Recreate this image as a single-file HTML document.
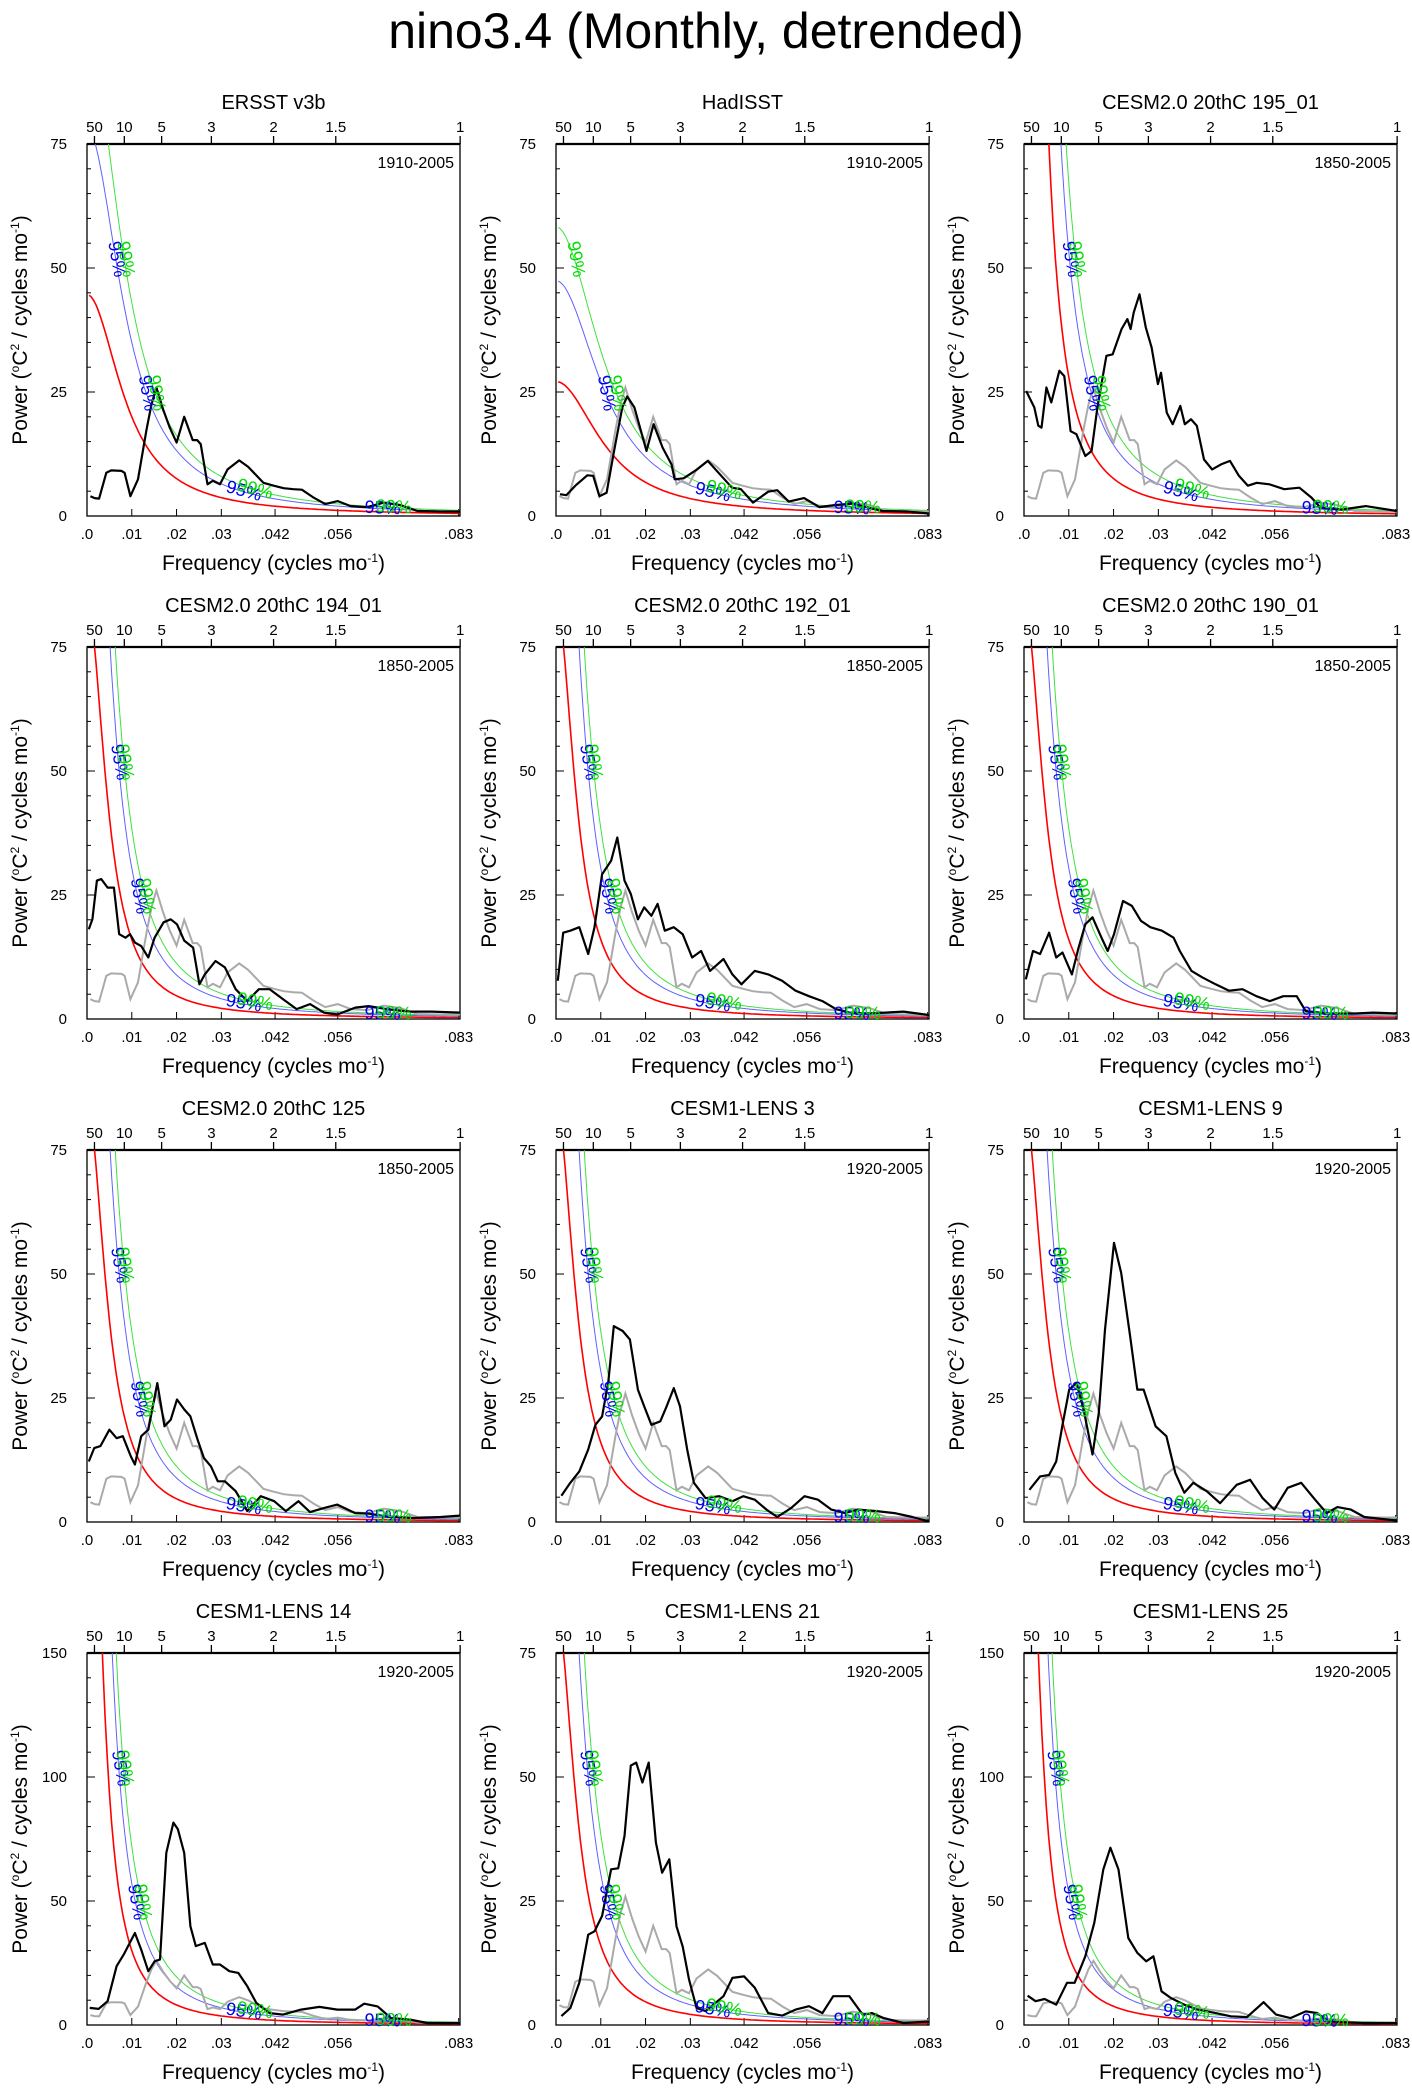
<!DOCTYPE html>
<html><head><meta charset="utf-8"><style>
html,body{margin:0;padding:0;background:#fff;}
svg{display:block;font-family:"Liberation Sans",sans-serif;}
</style></head><body>
<svg id="chart" width="1412" height="2091" viewBox="0 0 1412 2091" xmlns="http://www.w3.org/2000/svg">
<text x="706" y="48" font-size="50" text-anchor="middle">nino3.4 (Monthly, detrended)</text>
</svg>
<script>
// ---------- data ----------
const xTickVals = [0, .01, .02, .03, .042, .056, .083];
const xTickLabels = ['.0', '.01', '.02', '.03', '.042', '.056', '.083'];
const periodTicks = [50, 10, 5, 3, 2, 1.5, 1];
const panelTitles = ['ERSST v3b','HadISST','CESM2.0 20thC 195_01','CESM2.0 20thC 194_01','CESM2.0 20thC 192_01','CESM2.0 20thC 190_01','CESM2.0 20thC 125','CESM1-LENS 3','CESM1-LENS 9','CESM1-LENS 14','CESM1-LENS 21','CESM1-LENS 25'];
const panelYears = ['1910-2005','1910-2005','1850-2005','1850-2005','1850-2005','1850-2005','1850-2005','1920-2005','1920-2005','1920-2005','1920-2005','1920-2005'];
const panelYmax = [75,75,75,75,75,75,75,75,75,150,75,150];
const redAt01 = [20,15.5,28,16,16,16,16,16,16,30,16,28];
const redRho = [.945,.93,.98,.97,.97,.97,.97,.97,.97,.98,.97,.98];
const blueFac = [1.75,1.75,1.9,1.9,1.9,1.9,1.9,1.9,1.9,1.9,1.9,1.9];
const greenFac = [2.15,2.15,2.4,2.4,2.4,2.4,2.4,2.4,2.4,2.4,2.4,2.4];

const ersstF = [.00075,.0017,.0027,.0043,.0054,.0077,.0084,.0097,.0114,.0133,.0144,.0155,.017,.0185,.02,.0217,.0236,.0246,.0254,.0269,.0281,.0297,.0314,.034,.036,.0394,.0417,.0439,.0461,.048,.0506,.0532,.056,.0589,.0626,.0663,.07,.0738,.079,.0833];
const ersstP = [4.0,3.6,3.5,8.7,9.2,9.1,8.7,4.0,7.4,17.5,22.5,25.9,21.5,17.8,14.8,20,15.3,15.3,14.5,6.4,7.1,6.4,9.4,11.2,9.9,6.7,6.1,5.6,5.4,5.3,3.7,2.4,3.0,2.0,1.8,2.7,2.2,1.0,0.9,0.9];
const hadF = [.0009,.0023,.0043,.007,.0083,.0097,.0113,.0131,.0148,.0159,.0175,.0202,.0218,.0238,.0258,.0265,.0285,.0315,.0339,.0366,.0393,.0413,.044,.0474,.0494,.052,.0554,.0588,.0622,.0662,.0729,.0783,.0833];
const hadP = [4.4,4.2,6.1,8.2,8.1,4.0,4.7,13.8,21.9,24.1,21.9,13.1,18.5,13.8,10.4,7.4,7.6,9.4,11.1,8.4,5.7,5.4,2.7,4.9,5.2,2.9,3.6,1.8,2.2,2.5,1.0,0.9,0.5];
const c195F = [.0005,.0023,.0032,.0039,.005,.0061,.0079,.009,.0104,.0117,.0137,.0151,.0164,.0184,.0198,.0218,.0231,.0238,.0245,.0258,.0272,.0285,.0299,.0306,.0319,.0332,.0349,.0359,.0373,.0386,.0402,.042,.044,.046,.048,.05,.052,.0548,.0581,.0615,.0642,.0662,.0709,.0763,.0833];
const c195P = [25.2,21.9,18.2,17.8,25.9,22.9,29.3,28.2,17.1,16.5,12.1,13.1,21.9,32.3,32.6,37.7,39.7,37.7,41.0,44.7,38.0,34.0,26.6,28.9,20.8,18.5,22.2,18.5,19.5,18.2,11.4,9.4,10.4,11.1,8.1,6.1,6.7,6.4,5.4,5.7,3.7,1.7,1.3,2.0,1.0];
const c194F = [.0004,.0012,.0022,.0032,.0046,.006,.0072,.0086,.0096,.0107,.0121,.0137,.0151,.0171,.0187,.0201,.0217,.0237,.0251,.0263,.0287,.0308,.0332,.0358,.0384,.0408,.0438,.0468,.0498,.0529,.0559,.0599,.0629,.0669,.072,.077,.0833];
const c194P = [18.1,20.1,27.9,28.2,26.5,26.5,17.1,16.4,17.1,15.4,14.7,12.4,16.4,19.5,20.1,19.1,15.8,14.4,7.0,9.0,11.7,10.4,6.0,3.6,6.0,6.0,4.0,2.0,3.0,1.3,0.9,2.3,2.6,2.0,1.5,1.5,1.3];
const c192F = [.0004,.0016,.0032,.0052,.0072,.0086,.0103,.0123,.0137,.0153,.0167,.0183,.0197,.0213,.0227,.0243,.0263,.0283,.0304,.0324,.0344,.0374,.0394,.0414,.0444,.0474,.0505,.0535,.0565,.0595,.0625,.0655,.0695,.0736,.0776,.0833];
const c192P = [7.7,17.4,17.8,18.5,13.1,18.5,29.2,31.9,36.6,27.9,25.2,20.1,22.5,20.8,23.2,17.8,18.5,17.1,12.4,13.7,9.7,12.1,9.0,7.0,9.7,9.0,7.7,5.7,4.6,3.6,2.0,1.3,1.1,1.3,1.5,0.8];
const c190F = [.0004,.002,.0036,.0056,.0072,.0086,.0107,.0121,.0137,.0153,.0173,.0187,.0201,.0221,.0241,.0261,.0282,.0308,.0334,.0348,.0374,.0398,.0428,.0458,.0488,.0519,.0549,.0579,.0609,.0629,.0679,.074,.078,.0833];
const c190P = [8.0,13.7,13.1,17.4,12.4,13.4,9.0,14.1,19.1,20.5,16.4,13.7,17.1,23.8,22.8,19.8,18.5,17.8,16.4,13.7,9.7,8.4,7.0,5.7,6.0,4.6,3.6,4.6,4.6,1.6,1.1,1.1,1.3,1.1];
const c125F = [.0004,.0016,.003,.005,.0066,.008,.0098,.0107,.0121,.0137,.0157,.0173,.0187,.0201,.0217,.0231,.0247,.0261,.0277,.0292,.0308,.0332,.0358,.0388,.0418,.0444,.0472,.0498,.0529,.0559,.0599,.0629,.0669,.073,.079,.0833];
const c125P = [12.2,14.9,15.3,18.6,16.9,17.3,13.2,11.6,17.3,18.6,28.0,19.3,20.6,24.7,22.7,21.3,16.6,12.9,11.2,8.2,8.2,6.2,2.2,5.2,4.2,2.2,4.2,2.0,2.8,3.5,1.8,1.7,1.1,0.8,1.0,1.3];
const l3F = [.0012,.0032,.0052,.0072,.0088,.0103,.0117,.0129,.0149,.0165,.0183,.0197,.0213,.0233,.0247,.0263,.0277,.0293,.0308,.0334,.0364,.0394,.0418,.0444,.047,.0494,.0525,.0555,.0585,.0615,.0645,.0675,.0716,.0756,.0796,.0833];
const l3P = [5.3,7.9,10.2,14.6,19.6,21.3,28.4,39.5,38.5,36.8,26.7,23.3,19.6,20.3,23.3,27.0,23.3,14.6,7.9,4.8,5.2,4.2,5.2,4.5,2.5,1.0,2.8,5.2,4.5,2.5,1.8,2.5,2.2,1.8,1.0,0.1];
const l9F = [.0012,.0036,.0056,.0072,.0086,.0101,.0117,.0133,.0153,.0167,.0181,.0201,.0217,.0237,.0253,.0267,.0294,.0318,.0338,.0358,.0378,.0408,.0438,.0475,.0505,.0533,.0559,.0589,.0619,.065,.0676,.07,.073,.076,.08,.0833];
const l9P = [6.5,9.2,9.5,12.2,19.6,26.7,28.0,22.7,13.6,22.0,38.8,56.3,50.2,37.5,26.7,26.7,19.3,17.3,9.9,5.9,7.9,6.2,3.8,7.5,8.5,4.8,2.5,6.9,7.9,4.5,1.8,3.0,2.5,1.0,0.6,0.3];
const l14F = [.0006,.0026,.0046,.0066,.0082,.0107,.0121,.0137,.0151,.0163,.0177,.0193,.0203,.0217,.0231,.0243,.0263,.0281,.0297,.0318,.0338,.0358,.0378,.0408,.0438,.0478,.0519,.0559,.0599,.0619,.0649,.0679,.072,.076,.0833];
const l14P = [6.9,6.5,9.6,23.7,28.4,37.1,30.4,21.7,25.7,26.4,69.4,81.6,78.9,69.4,39.8,31.8,33.1,24.4,24.4,21.7,21.0,15.6,8.9,4.8,4.2,6.2,7.3,6.2,6.2,8.6,7.5,2.8,2.2,0.8,0.8];
const l21F = [.0012,.0032,.0052,.0072,.0086,.0103,.0123,.0139,.0153,.0167,.0179,.0193,.0207,.0223,.0237,.0253,.0269,.0283,.0297,.0314,.0334,.0374,.0394,.042,.0444,.0474,.0505,.0535,.0565,.0595,.0619,.0655,.0685,.0706,.0732,.0776,.0833];
const l21P = [1.8,3.4,8.5,18.2,18.9,22.0,31.4,31.6,38.1,52.3,52.9,48.9,52.9,36.8,30.7,33.4,19.9,15.8,9.2,3.4,2.8,5.8,9.5,9.8,7.5,2.4,1.9,3.1,3.8,2.4,5.8,5.8,2.1,2.4,1.4,0.4,0.7];
const l25F = [.0008,.0026,.0046,.0072,.0096,.0113,.0137,.0157,.0177,.0193,.0211,.0233,.0253,.0273,.0289,.0307,.0328,.0358,.0388,.0428,.0462,.0498,.0535,.0563,.0595,.0629,.0655,.068,.072,.076,.0833];
const l25P = [11.8,9.6,10.5,8.2,17.0,17.0,27.7,41.2,62.7,71.5,62.7,35.1,29.1,25.7,27.7,13.6,10.9,8.2,6.2,4.8,3.5,3.2,9.2,4.2,2.8,5.5,4.8,1.5,1.1,0.8,0.8];

const blackF = [ersstF,hadF,c195F,c194F,c192F,c190F,c125F,l3F,l9F,l14F,l21F,l25F];
const blackP = [ersstP,hadP,c195P,c194P,c192P,c190P,c125P,l3P,l9P,l14P,l21P,l25P];
const showGray = [false,true,true,true,true,true,true,true,true,true,true,true];

// ---------- drawing ----------
const NS = 'http://www.w3.org/2000/svg';
const svg = document.getElementById('chart');
const FMAX = 0.0833, PW = 373, PH = 372;
const colLeft = [87, 556, 1024], rowTop = [144, 647, 1150, 1653];

function mk(tag, attrs, parent) {
  const e = document.createElementNS(NS, tag);
  for (const k in attrs) e.setAttribute(k, attrs[k]);
  (parent || svg).appendChild(e);
  return e;
}
function redNoise(p, f) {
  const r = redRho[p];
  const D = ff => 1 - 2 * r * Math.cos(2 * Math.PI * ff) + r * r;
  return redAt01[p] * D(0.01) / D(f);
}

for (let p = 0; p < 12; p++) {
  const L = colLeft[p % 3], T = rowTop[Math.floor(p / 3)];
  const ymax = panelYmax[p];
  const xs = f => L + f / FMAX * PW;
  const ys = v => T + PH - v / ymax * PH;

  const g = mk('g', {});
  
  

  const clipId = 'clip' + p;
  const cp = mk('clipPath', {id: clipId}, g);
  mk('rect', {x: L, y: T, width: PW, height: PH}, cp);

  const t = mk('text', {x: L + PW / 2, y: T - 35, 'font-size': 20, 'text-anchor': 'middle'}, g);
  t.textContent = panelTitles[p];
  
  
  const yr = mk('text', {x: L + PW - 6, y: T + 24, 'font-size': 16, 'text-anchor': 'end'}, g);
  yr.textContent = panelYears[p];
  
  

  const frame = mk('rect', {x: L, y: T, width: PW, height: PH, fill: 'none', stroke: '#000', 'stroke-width': 1.3}, g);
  
  
  mk('line', {x1: L, x2: L + PW, y1: T, y2: T, stroke: '#000', 'stroke-width': 2.2}, g);

  periodTicks.forEach(per => {
    const x = xs(1 / (12 * per));
    mk('line', {x1: x, x2: x, y1: T, y2: T - 8, stroke: '#000', 'stroke-width': 1.3}, g);
    const tl = mk('text', {x: x, y: T - 12, 'font-size': 15, 'text-anchor': 'middle'}, g);
    tl.textContent = String(per);
    
    
  });
  xTickVals.forEach((fv, i) => {
    const x = xs(Math.min(fv, FMAX));
    mk('line', {x1: x, x2: x, y1: T + PH, y2: T + PH - 7, stroke: '#000', 'stroke-width': 1}, g);
    const tl = mk('text', {x: x, y: T + PH + 23, 'font-size': 15, 'text-anchor': 'middle'}, g);
    tl.textContent = xTickLabels[i];
    
    
  });
  const major = ymax / 3, minor = ymax / 15;
  for (let v = 0; v <= ymax + 1e-6; v += minor) {
    const isMaj = Math.abs(v / major - Math.round(v / major)) < 1e-6;
    const y = ys(v);
    mk('line', {x1: L, x2: L + (isMaj ? 8 : 4), y1: y, y2: y, stroke: '#000', 'stroke-width': 1}, g);
    if (isMaj) {
      const tl = mk('text', {x: L - 20, y: y + 5, 'font-size': 15, 'text-anchor': 'end'}, g);
      tl.textContent = String(Math.round(v));
      
      
    }
  }
  const xt = mk('text', {x: L + PW / 2, y: T + PH + 54, 'font-size': 21, 'text-anchor': 'middle'}, g);
  xt.innerHTML = 'Frequency (cycles mo<tspan dy="-8" font-size="12">-1</tspan><tspan dy="8">)</tspan>';
  
  
  const yx = L - 60, yc = T + PH / 2;
  const yt = mk('text', {x: yx, y: yc, 'font-size': 21, 'text-anchor': 'middle', transform: `rotate(-90 ${yx} ${yc})`}, g);
  yt.innerHTML = 'Power (<tspan dy="-8" font-size="12">o</tspan><tspan dy="8">C</tspan><tspan dy="-8" font-size="12">2</tspan><tspan dy="8"> / cycles mo</tspan><tspan dy="-8" font-size="12">-1</tspan><tspan dy="8">)</tspan>';
  
  

  const clipG = mk('g', {'clip-path': `url(#${clipId})`}, g);

  const curves = [[1, '#ff0000', 1.6, 'red-noise-curve'], [blueFac[p], '#6060ff', 1, 'ci95-curve'], [greenFac[p], '#40e040', 1, 'ci99-curve']];
  curves.forEach(([fac, col, w, nm]) => {
    let d = '';
    for (let f = 0.0005; f <= FMAX + 1e-9; f += 0.0005) {
      const v = Math.min(redNoise(p, f) * fac, ymax * 1.3);
      d += (d ? 'L' : 'M') + xs(f).toFixed(1) + ',' + ys(v).toFixed(1);
    }
    const path = mk('path', {d: d, fill: 'none', stroke: col, 'stroke-width': w}, clipG);
    
    
  });

  if (showGray[p]) {
    const d = ersstF.map((f, i) => (i ? 'L' : 'M') + xs(f).toFixed(1) + ',' + ys(ersstP[i]).toFixed(1)).join('');
    const gp = mk('path', {d: d, fill: 'none', stroke: '#aaaaaa', 'stroke-width': 2}, clipG);
    
    
  }
  const bf = blackF[p], bp = blackP[p];
  const d = bf.map((f, i) => (i ? 'L' : 'M') + xs(f).toFixed(1) + ',' + ys(bp[i]).toFixed(1)).join('');
  const bl = mk('path', {d: d, fill: 'none', stroke: '#000', 'stroke-width': 2.2, 'stroke-linejoin': 'round'}, clipG);
  
  

  [[blueFac[p], '#0000ee', '95%'], [greenFac[p], '#00dd00', '99%']].forEach(([fac, col, txt]) => {
    const cv = f => redNoise(p, f) * fac;
    const levels = [ymax * 0.69, ymax * 0.33];
    levels.forEach(lv => {
      let f = 0.0005;
      while (f < FMAX && cv(f) > lv) f += 0.0002;
      if (f >= FMAX || f < 0.001) return;
      const x = xs(f), y = ys(lv);
      const lb = mk('text', {x: x, y: y, 'font-size': 18, fill: col, 'text-anchor': 'middle', 'dominant-baseline': 'middle', transform: `rotate(80 ${x} ${y})`}, g);
      lb.textContent = txt;
      
      
    });
    [0.035, 0.066].forEach(f0 => {
      const f = f0 + (txt === '99%' ? 0.0025 : 0);
      const x = xs(f), y = ys(cv(f));
      const ang = Math.atan2(ys(cv(f + 0.002)) - y, xs(f + 0.002) - x) * 180 / Math.PI;
      const lb = mk('text', {x: x, y: y, 'font-size': 18, fill: col, 'text-anchor': 'middle', 'dominant-baseline': 'middle', transform: `rotate(${ang.toFixed(1)} ${x} ${y})`}, g);
      lb.textContent = txt;
      
      
    });
  });
}
</script>
</body></html>
